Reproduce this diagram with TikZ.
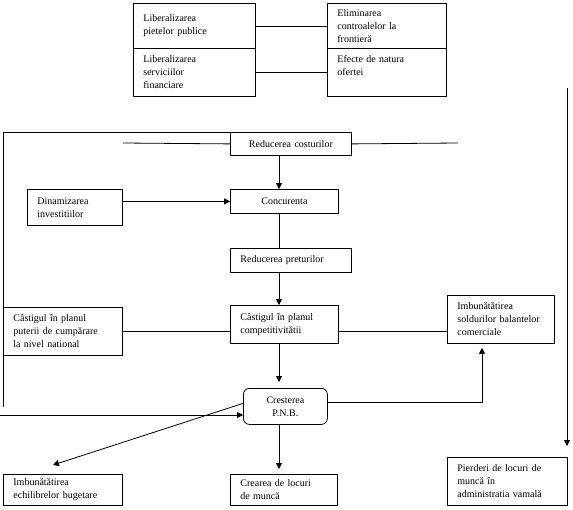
\documentclass[tikz,border=0pt]{standalone}
\usepackage{fontspec}
\setmainfont{Liberation Serif}
\usetikzlibrary{arrows.meta,positioning}

\begin{document}
\begin{tikzpicture}[
			x=1pt, y=-1pt,
			line width=0.8pt,
			>={Triangle[length=6pt,width=6pt]},
			cell/.style 2 args={draw, anchor=north west, text width=#1, minimum height=#2, inner xsep=10pt, inner ysep=1pt, align=left, font=\fontsize{10}{13}\selectfont},
			ccell/.style 2 args={cell={#1}{#2}, align=center},
			pnbbox/.style={ccell={64pt}{36pt}, rounded corners=6pt}
			]
			\useasboundingbox (0,0) rectangle (573,509);
			
			% Top block
			\node[cell={102pt}{45pt}] (Lib1) at (133,3) {Liberalizarea\\ pietelor publice};
			\node[cell={102pt}{48pt}] (Lib2) at (133,48) {Liberalizarea\\ serviciilor\\ financiare};
			\node[cell={99pt}{45pt}] (Elim) at (327,3) {Eliminarea\\ controalelor la\\ frontieră};
			\node[cell={99pt}{48pt}] (Ofer) at (327,48) {Efecte de natura\\ ofertei\\ \mbox{}};
			
			% Middle chain
			\node[ccell={101pt}{23pt}] (Cost) at (230,132) {Reducerea costurilor};
			\node[cell={75pt}{36pt}] (Dinam) at (27,189) {Dinamizarea\\ investitiilor};
			\node[ccell={88pt}{24pt}] (Conc) at (230,189) {Concurenta};
			\node[cell={101pt}{24pt}] (Pret) at (230,248) {Reducerea preturilor};
			\node[cell={99pt}{48pt}] (CastP) at (3,307) {Câstigul în planul\\ puterii de cumpărare\\ la nivel national};
			\node[cell={88pt}{38pt}] (CastC) at (230,305) {Câstigul în planul\\ competitivitătii};
			\node[cell={87pt}{48pt}] (Sold) at (447,295) {Imbunătătirea\\ soldurilor balantelor\\ comerciale};
			\node[pnbbox] (PNB) at (243,388) {Cresterea\\ P.N.B.};
			
			% Bottom row
			\node[cell={99pt}{31pt}] (Buget) at (3,474) {Imbunătătirea\\ echilibrelor bugetare};
			\node[cell={87pt}{31pt}] (Locuri) at (230,474) {Crearea de locuri\\ de muncă};
			\node[cell={100pt}{48pt}] (Vama) at (447,457) {Pierderi de locuri de\\ muncă în\\ administratia vamală};
			
			% Free ends
			\coordinate (costL) at (123,143);
			\coordinate (costR) at (458,143);
			\coordinate (outTL) at (3,132);
			\coordinate (outBL) at (3,407);
			\coordinate (outTR) at (567,88);
			\coordinate (inL) at (0,415);
			\coordinate (bugTip) at (53,465);
			\coordinate (turnR) at (482,402);
			\coordinate (spine) at (279,0);
			
			% Top links
			\draw (Lib1.east) -- (Elim.west);
			\draw (Lib2.east) -- (Ofer.west);
			
			% Frame lines
			\draw (costL) -- (Cost.west);
			\draw (Cost.east) -- (costR);
			\draw (Cost.north west) -- (outTL) -- (outBL);
			\draw[->] (inL) -- (inL -| PNB.west);
			\draw[->, shorten >=11pt] (outTR) -- (outTR |- Vama.north);
			
			% Vertical chain
			\draw[->] (Cost.south -| spine) -- (Conc.north -| spine);
			\draw (Conc.south -| spine) -- (Pret.north -| spine);
			\draw[->] (Pret.south -| spine) -- (CastC.north -| spine);
			\draw[->, shorten >=6pt] (CastC.south -| spine) -- (PNB.north -| spine);
			\draw[->, shorten >=5pt] (PNB.south -| spine) -- (Locuri.north -| spine);
			
			% Side links
			\draw[->] (Dinam.east |- Conc.west) -- (Conc.west);
			\draw (CastP.east) -- (CastP.east -| CastC.west);
			\draw (CastC.east |- CastP.east) -- (CastP.east -| Sold.west);
			\draw[->] ([yshift=3pt]PNB.west) -- (bugTip);
			\draw[->, shorten >=4pt] (PNB.east |- turnR) -- (turnR) -- (turnR |- Sold.south);
			
		\end{tikzpicture}
\end{document}
